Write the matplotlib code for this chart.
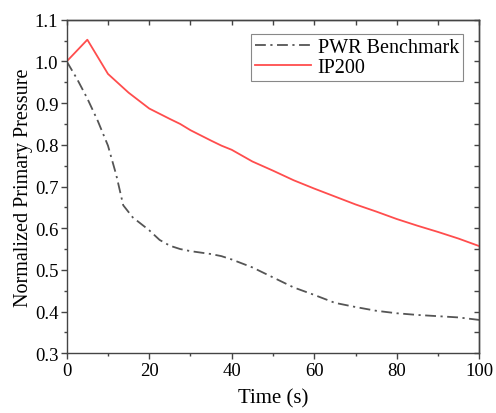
import numpy as np
import matplotlib
matplotlib.use("Agg")
import matplotlib.pyplot as plt
from matplotlib.ticker import MultipleLocator

plt.rcParams['font.family'] = ['Liberation Serif', 'DejaVu Serif']
plt.rcParams['mathtext.fontset'] = 'stix'

# PWR Benchmark (dash-dot grey)
t_pwr = [0, 2.5, 5, 7.5, 10, 12, 13.7, 16, 20, 22.5, 25, 27.5, 30, 35, 37.5, 40,
         45, 50, 55, 60, 65, 70, 75, 80, 85, 90, 95, 100]
p_pwr = [1.0, 0.958, 0.911, 0.858, 0.798, 0.728, 0.655, 0.626, 0.595, 0.572, 0.558,
         0.550, 0.545, 0.538, 0.533, 0.525, 0.506, 0.482, 0.458, 0.440, 0.421, 0.411,
         0.402, 0.396, 0.392, 0.389, 0.386, 0.380]

# IP200 (red solid)
t_ip = [0, 5, 10, 15, 20, 25, 27.5, 30, 35, 37.5, 40, 45, 50, 55, 60, 65, 70,
        75, 80, 85, 90, 95, 100]
p_ip = [1.0, 1.052, 0.970, 0.925, 0.887, 0.862, 0.850, 0.835, 0.810, 0.798, 0.788,
        0.760, 0.738, 0.715, 0.695, 0.676, 0.657, 0.640, 0.622, 0.606, 0.591,
        0.575, 0.557]

fig = plt.figure(figsize=(4.96, 4.14), dpi=100)
ax = fig.add_axes([0.1345, 0.1442, 0.8318, 0.8058])

ax.plot(t_pwr, p_pwr, color='#555555', linestyle=(0, (6, 2.5, 1.2, 2.5)),
        linewidth=1.3, label='PWR Benchmark')
ax.plot(t_ip, p_ip, color='#ff4d4d', linewidth=1.3, label='IP200')

ax.set_xlim(0, 100)
ax.set_ylim(0.3, 1.1)
ax.xaxis.set_major_locator(MultipleLocator(20))
ax.xaxis.set_minor_locator(MultipleLocator(10))
ax.yaxis.set_major_locator(MultipleLocator(0.1))
ax.yaxis.set_minor_locator(MultipleLocator(0.05))
ax.yaxis.set_major_formatter(matplotlib.ticker.FormatStrFormatter('%.1f'))

for s in ax.spines.values():
    s.set_color('#444444')
    s.set_linewidth(1.0)

ax.tick_params(which='major', direction='out', length=4.5, width=1.0,
               color='#444444', labelsize=13.5, pad=1.5)
ax.tick_params(which='minor', direction='out', length=2.5, width=1.0, color='#444444')

# mirrored ticks pointing inward on top and right
top = ax.secondary_xaxis('top')
top.xaxis.set_major_locator(MultipleLocator(10))
top.tick_params(direction='in', length=3.5, width=1.0, color='#444444', labeltop=False)
right = ax.secondary_yaxis('right')
right.yaxis.set_major_locator(MultipleLocator(0.05))
right.tick_params(direction='in', length=3.5, width=1.0, color='#444444', labelright=False)
for sec in (top, right):
    for s in sec.spines.values():
        s.set_color('#444444')
        s.set_linewidth(1.0)

ax.set_xlabel('Time (s)', fontsize=15, labelpad=7)
ax.set_ylabel('Normalized Primary Pressure', fontsize=14.5, labelpad=1)

leg = ax.legend(loc='upper right', bbox_to_anchor=(0.96, 0.957), fontsize=14.5,
                frameon=True, fancybox=False, edgecolor='#888888', framealpha=1,
                handlelength=2.8, handletextpad=0.3, borderpad=0.2,
                labelspacing=0.05, borderaxespad=0)
leg.get_frame().set_linewidth(0.8)

fig.savefig('out.png', dpi=100)
